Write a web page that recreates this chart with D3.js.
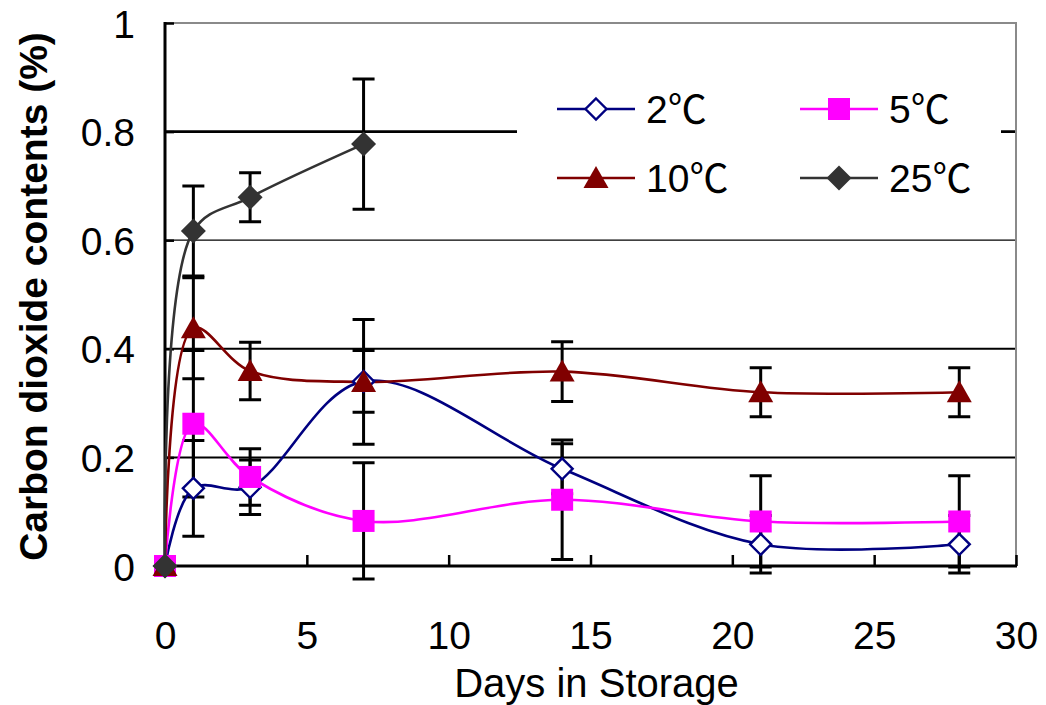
<!DOCTYPE html>
<html>
<head>
<meta charset="utf-8">
<script src="https://cdn.jsdelivr.net/npm/d3@7/dist/d3.min.js"></script>
<style>
  html, body { margin: 0; padding: 0; background: #fff; }
  svg { display: block; }
  text { font-family: "Liberation Sans", Arial, "Noto Sans CJK SC", sans-serif; fill: #000; }
</style>
</head>
<body>
<svg id="chart" width="1046" height="705"></svg>
<script>
// Storage days at which CO2 was sampled
const days = [0, 1, 3, 7, 14, 21, 28];
const days25 = [0, 1, 3, 7];

// Carbon dioxide contents (%) and standard deviations per storage temperature
const co2_2C  = [0, 0.143, 0.145, 0.34, 0.179, 0.04, 0.04];
const err_2C  = [0, 0.088, 0.05, 0.057, 0.046, 0.053, 0.053];
const co2_5C  = [0, 0.262, 0.164, 0.083, 0.122, 0.082, 0.082];
const err_5C  = [0, 0.135, 0.052, 0.107, 0.11, 0.084, 0.084];
const co2_10C = [0, 0.438, 0.359, 0.339, 0.358, 0.32, 0.32];
const err_10C = [0, 0.093, 0.053, 0.115, 0.055, 0.045, 0.045];
const co2_25C = [0, 0.617, 0.679, 0.777];
const err_25C = [0, 0.083, 0.045, 0.12];

const seriesNames = ["2℃", "5℃", "10℃", "25℃"];
const xTicks = [0, 5, 10, 15, 20, 25, 30];
const yTicks = [0, 0.2, 0.4, 0.6, 0.8, 1];
const yTickLabels = ["0", "0.2", "0.4", "0.6", "0.8", "1"];

const series = [
  { name: seriesNames[0], x: days,   y: co2_2C,  e: err_2C,  color: "#000080", marker: "diamondOpen" },
  { name: seriesNames[1], x: days,   y: co2_5C,  e: err_5C,  color: "#FF00FF", marker: "square" },
  { name: seriesNames[2], x: days,   y: co2_10C, e: err_10C, color: "#800000", marker: "triangle" },
  { name: seriesNames[3], x: days25, y: co2_25C, e: err_25C, color: "#333333", marker: "diamond" }
];

const svg = d3.select("#chart");
const plot = { left: 165, right: 1016, top: 23, bottom: 566 };

const x = d3.scaleLinear().domain([0, 30]).range([plot.left, plot.right]);
const y = d3.scaleLinear().domain([0, 1]).range([plot.bottom, plot.top]);

// Horizontal gridlines
const gridWidths = { 0.2: 2, 0.4: 2, 0.6: 1.3, 0.8: 2.8 };
svg.append("g").selectAll("line")
  .data([0.2, 0.4, 0.6, 0.8])
  .join("line")
  .attr("x1", plot.left).attr("x2", plot.right)
  .attr("y1", d => y(d)).attr("y2", d => y(d))
  .attr("stroke", "#000")
  .attr("stroke-width", d => gridWidths[d]);

// Plot area border (top and right)
svg.append("path")
  .attr("d", `M${plot.left},${plot.top}H${plot.right}V${plot.bottom}`)
  .attr("fill", "none").attr("stroke", "#8a8a8a").attr("stroke-width", 2);

// Legend background hides the gridline behind it
svg.append("rect")
  .attr("x", 517).attr("y", 78).attr("width", 484).attr("height", 128)
  .attr("fill", "#fff");

// Axes
const yAxis = d3.axisLeft(y).tickValues(yTicks)
  .tickFormat((d, i) => yTickLabels[i])
  .tickSize(-9).tickPadding(30);
const gy = svg.append("g").attr("transform", `translate(${plot.left},0)`).call(yAxis);
gy.select(".domain").remove();
gy.selectAll(".tick line").attr("stroke", "#000").attr("stroke-width", 2.5);
gy.selectAll(".tick text").attr("font-size", 39).attr("dy", "0.36em");

const xAxis = d3.axisBottom(x).tickValues(xTicks).tickSize(-11).tickPadding(80);
const gx = svg.append("g").attr("transform", `translate(0,${plot.bottom})`).call(xAxis);
gx.select(".domain").remove();
gx.selectAll(".tick line").attr("stroke", "#000").attr("stroke-width", 2.5);
gx.selectAll(".tick text").attr("font-size", 39).attr("dy", "0.08em");

svg.append("line")
  .attr("x1", plot.left).attr("x2", plot.left)
  .attr("y1", plot.top - 1).attr("y2", plot.bottom + 1.5)
  .attr("stroke", "#000").attr("stroke-width", 3);
svg.append("line")
  .attr("x1", plot.left).attr("x2", plot.right + 1)
  .attr("y1", plot.bottom).attr("y2", plot.bottom)
  .attr("stroke", "#000").attr("stroke-width", 3);

// Axis titles
svg.append("text")
  .attr("x", (plot.left + plot.right) / 2 + 6).attr("y", 697)
  .attr("text-anchor", "middle").attr("font-size", 40)
  .text("Days in Storage");
svg.append("text")
  .attr("transform", `translate(47,${(plot.top + plot.bottom) / 2 + 2}) rotate(-90)`)
  .attr("text-anchor", "middle").attr("font-size", 39).attr("font-weight", "bold")
  .text("Carbon dioxide contents (%)");

// Error bars
const capW = 11;
const gErr = svg.append("g").attr("stroke", "#000").attr("stroke-width", 3).attr("fill", "none");
series.forEach(s => {
  s.x.forEach((d, i) => {
    if (!s.e[i]) return;
    const cx = x(d), hi = y(s.y[i] + s.e[i]), lo = y(s.y[i] - s.e[i]);
    gErr.append("path")
      .attr("d", `M${cx},${hi}V${lo}M${cx - capW},${hi}H${cx + capW}M${cx - capW},${lo}H${cx + capW}`);
  });
});

// Smoothed series lines
const line = d3.line().curve(d3.curveCatmullRom.alpha(0.5));
series.forEach(s => {
  svg.append("path")
    .attr("d", line(s.x.map((d, i) => [x(d), y(s.y[i])])))
    .attr("fill", "none").attr("stroke", s.color).attr("stroke-width", 2.6);
});

// Marker drawing
function drawMarker(g, type, cx, cy, color) {
  if (type === "square") {
    g.append("rect").attr("x", cx - 11).attr("y", cy - 11).attr("width", 22).attr("height", 22)
      .attr("fill", color);
  } else if (type === "triangle") {
    g.append("path").attr("d", `M${cx},${cy - 12}L${cx + 12.5},${cy + 10}L${cx - 12.5},${cy + 10}Z`)
      .attr("fill", color);
  } else if (type === "diamond") {
    g.append("path").attr("d", `M${cx},${cy - 12.5}L${cx + 12.5},${cy}L${cx},${cy + 12.5}L${cx - 12.5},${cy}Z`)
      .attr("fill", color);
  } else if (type === "diamondOpen") {
    g.append("path").attr("d", `M${cx},${cy - 10.5}L${cx + 10.5},${cy}L${cx},${cy + 10.5}L${cx - 10.5},${cy}Z`)
      .attr("fill", "#fff").attr("stroke", color).attr("stroke-width", 2.4);
  }
}

series.forEach(s => {
  const g = svg.append("g");
  s.x.forEach((d, i) => drawMarker(g, s.marker, x(d), y(s.y[i]), s.color));
});

// Legend
const legendCols = [557, 800];
const legendRows = [109, 178];
series.forEach((s, i) => {
  const lx = legendCols[i % 2], ly = legendRows[Math.floor(i / 2)];
  const g = svg.append("g");
  g.append("line").attr("x1", lx).attr("x2", lx + 78).attr("y1", ly).attr("y2", ly)
    .attr("stroke", s.color).attr("stroke-width", 2.6);
  drawMarker(g, s.marker, lx + 39, ly, s.color);
  g.append("text").attr("x", lx + 89).attr("y", ly + 14).attr("font-size", 39).text(s.name);
});
</script>
</body>
</html>
